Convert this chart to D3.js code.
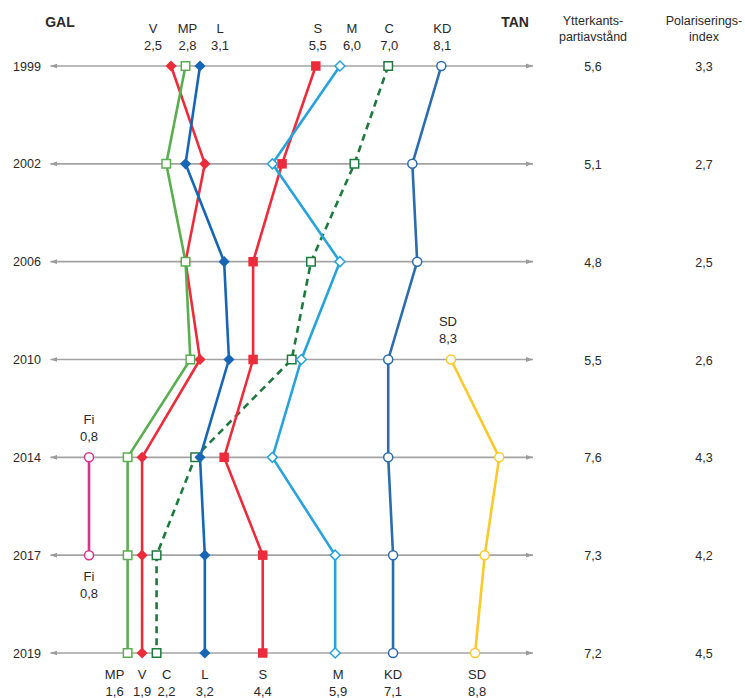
<!DOCTYPE html>
<html>
<head>
<meta charset="utf-8">
<script src="https://cdn.jsdelivr.net/npm/d3@7/dist/d3.min.js"></script>
<style>
  html, body { margin: 0; padding: 0; background: #fff; }
  svg { display: block; }
  text { font-family: "Liberation Sans", Arial, Helvetica, sans-serif; fill: #2a2a2a; }
</style>
</head>
<body>
<svg id="chart" width="745" height="698"></svg>
<script>
// ---- data ----
const years = ["1999", "2002", "2006", "2010", "2014", "2017", "2019"];
const parties = ["C", "V", "MP", "S", "M", "L", "KD", "SD", "Fi"];
const valV  = [2.5, 3.2, 2.8, 3.1, 1.9, 1.9, 1.9];
const valMP = [2.8, 2.4, 2.8, 2.9, 1.6, 1.6, 1.6];
const valL  = [3.1, 2.8, 3.6, 3.7, 3.1, 3.2, 3.2];
const valS  = [5.5, 4.8, 4.2, 4.2, 3.6, 4.4, 4.4];
const valM  = [6.0, 4.6, 6.0, 5.2, 4.6, 5.9, 5.9];
const valC  = [7.0, 6.3, 5.4, 5.0, 3.0, 2.2, 2.2];
const valKD = [8.1, 7.5, 7.6, 7.0, 7.0, 7.1, 7.1];
const valSD = [null, null, null, 8.3, 9.3, 9.0, 8.8];
const valFi = [null, null, null, null, 0.8, 0.8, null];
const ytterkant = [5.6, 5.1, 4.8, 5.5, 7.6, 7.3, 7.2];
const polarIndex = [3.3, 2.7, 2.5, 2.6, 4.3, 4.2, 4.5];
const axisEnds = ["GAL", "TAN"];
const colHeaders = [["Ytterkants-", "partiavstånd"], ["Polariserings-", "index"]];

// ---- styles / layout ----
const seriesValues = { V: valV, MP: valMP, L: valL, S: valS, M: valM, C: valC, KD: valKD, SD: valSD, Fi: valFi };
const style = {
  V:  { color: "#ec2b3b", marker: "diamond", filled: true },
  MP: { color: "#5aae50", marker: "square", filled: false },
  L:  { color: "#1766b6", marker: "diamond", filled: true },
  S:  { color: "#ec2b3b", marker: "square", filled: true },
  M:  { color: "#27a2dd", marker: "diamond", filled: false },
  C:  { color: "#1c7a3d", marker: "square", filled: false, dash: "7,5" },
  KD: { color: "#2c6bad", marker: "circle", filled: false },
  SD: { color: "#fdc82d", marker: "circle", filled: false },
  Fi: { color: "#d8348c", marker: "circle", filled: false }
};
// label offsets in px (layout only)
const topLabelDx = { V: -18, MP: 2, L: 20, S: 2, M: 12, C: 1, KD: 1 };
const bottomLabelDx = { MP: -13, V: 0, C: 10, L: 0, S: 0, M: 3, KD: 0, SD: 2 };

const svg = d3.select("#chart");
const x = d3.scaleLinear().domain([0, 10]).range([50.4, 533]);
const y = d3.scalePoint().domain(years).range([66, 653]);
const fmt = v => d3.format(".1f")(v).replace(".", ",");

// ---- row axes ----
const defs = svg.append("defs");
["start", "end"].forEach(k => {
  defs.append("marker")
    .attr("id", "arr-" + k)
    .attr("viewBox", "0 0 10 10")
    .attr("refX", k === "end" ? 10 : 0).attr("refY", 5)
    .attr("markerWidth", 7).attr("markerHeight", 7)
    .attr("markerUnits", "userSpaceOnUse")
    .attr("orient", "auto")
    .append("path")
    .attr("d", k === "end" ? "M0,1.5 L10,5 L0,8.5 Z" : "M10,1.5 L0,5 L10,8.5 Z")
    .attr("fill", "#9b9b9b");
});

const rows = svg.append("g");
years.forEach(yr => {
  rows.append("line")
    .attr("x1", x(0)).attr("x2", x(10))
    .attr("y1", y(yr)).attr("y2", y(yr))
    .attr("stroke", "#a3a3a3").attr("stroke-width", 1.6)
    .attr("marker-start", "url(#arr-start)")
    .attr("marker-end", "url(#arr-end)");
  rows.append("text")
    .attr("x", 27).attr("y", y(yr) + 4.5)
    .attr("text-anchor", "middle").attr("font-size", 12.5)
    .text(yr);
});

// ends
svg.append("text").attr("x", 60).attr("y", 27).attr("text-anchor", "middle")
  .attr("font-size", 14).attr("font-weight", "bold").attr("fill", "#111").text(axisEnds[0]);
svg.append("text").attr("x", 515).attr("y", 27).attr("text-anchor", "middle")
  .attr("font-size", 14).attr("font-weight", "bold").attr("fill", "#111").text(axisEnds[1]);

// column headers and values
const colX = [593, 704];
colHeaders.forEach((lines, i) => {
  lines.forEach((t, j) => {
    svg.append("text").attr("x", colX[i]).attr("y", 25 + j * 16)
      .attr("text-anchor", "middle").attr("font-size", 12.5).text(t);
  });
});
[ytterkant, polarIndex].forEach((arr, i) => {
  arr.forEach((v, j) => {
    svg.append("text").attr("x", colX[i]).attr("y", y(years[j]) + 5)
      .attr("text-anchor", "middle").attr("font-size", 12.5).text(fmt(v));
  });
});

// ---- series lines ----
const line = d3.line()
  .defined(d => d.v != null)
  .x(d => x(d.v)).y(d => y(d.yr));

const gLines = svg.append("g");
const gMarks = svg.append("g");
parties.forEach(p => {
  const st = style[p];
  const data = years.map((yr, i) => ({ yr, v: seriesValues[p][i] }));
  gLines.append("path")
    .datum(data)
    .attr("d", line)
    .attr("fill", "none")
    .attr("stroke", st.color)
    .attr("stroke-width", 2.6)
    .attr("stroke-linejoin", "round")
    .attr("stroke-dasharray", st.dash || null);
});

parties.forEach(p => {
  const st = style[p];
  const data = years.map((yr, i) => ({ yr, v: seriesValues[p][i] })).filter(d => d.v != null);
  let type, size, rot = 0;
  if (st.marker === "diamond") { type = d3.symbolSquare; size = st.filled ? 62 : 50; rot = 45; }
  else if (st.marker === "square") { type = d3.symbolSquare; size = st.filled ? 90 : 72; }
  else { type = d3.symbolCircle; size = 64; }
  const symbolGen = d3.symbol().type(type).size(size);
  gMarks.selectAll(null)
    .data(data)
    .enter().append("path")
    .attr("d", symbolGen)
    .attr("transform", d => `translate(${x(d.v)},${y(d.yr)}) rotate(${rot})`)
    .attr("fill", st.filled ? st.color : "#fff")
    .attr("stroke", st.color)
    .attr("stroke-width", st.filled ? 0 : 1.5);
});

// ---- labels ----
const gLab = svg.append("g").attr("font-size", 13);
function label(p, yr, v, dx, above) {
  const cx = x(v) + dx;
  const cy = y(yr);
  const n1 = above ? cy - 38 : cy + 21;
  const n2 = above ? cy - 21 : cy + 38;
  gLab.append("text").attr("x", cx).attr("y", n1 + 4.5).attr("text-anchor", "middle").text(p);
  gLab.append("text").attr("x", cx).attr("y", n2 + 4.5).attr("text-anchor", "middle").text(fmt(v));
}
Object.keys(topLabelDx).forEach(p => label(p, years[0], seriesValues[p][0], topLabelDx[p], true));
Object.keys(bottomLabelDx).forEach(p => label(p, years[6], seriesValues[p][6], bottomLabelDx[p], false));
label("SD", years[3], valSD[3], -3, true);
label("Fi", years[4], valFi[4], 0, true);
label("Fi", years[5], valFi[5], 0, false);
</script>
</body>
</html>
